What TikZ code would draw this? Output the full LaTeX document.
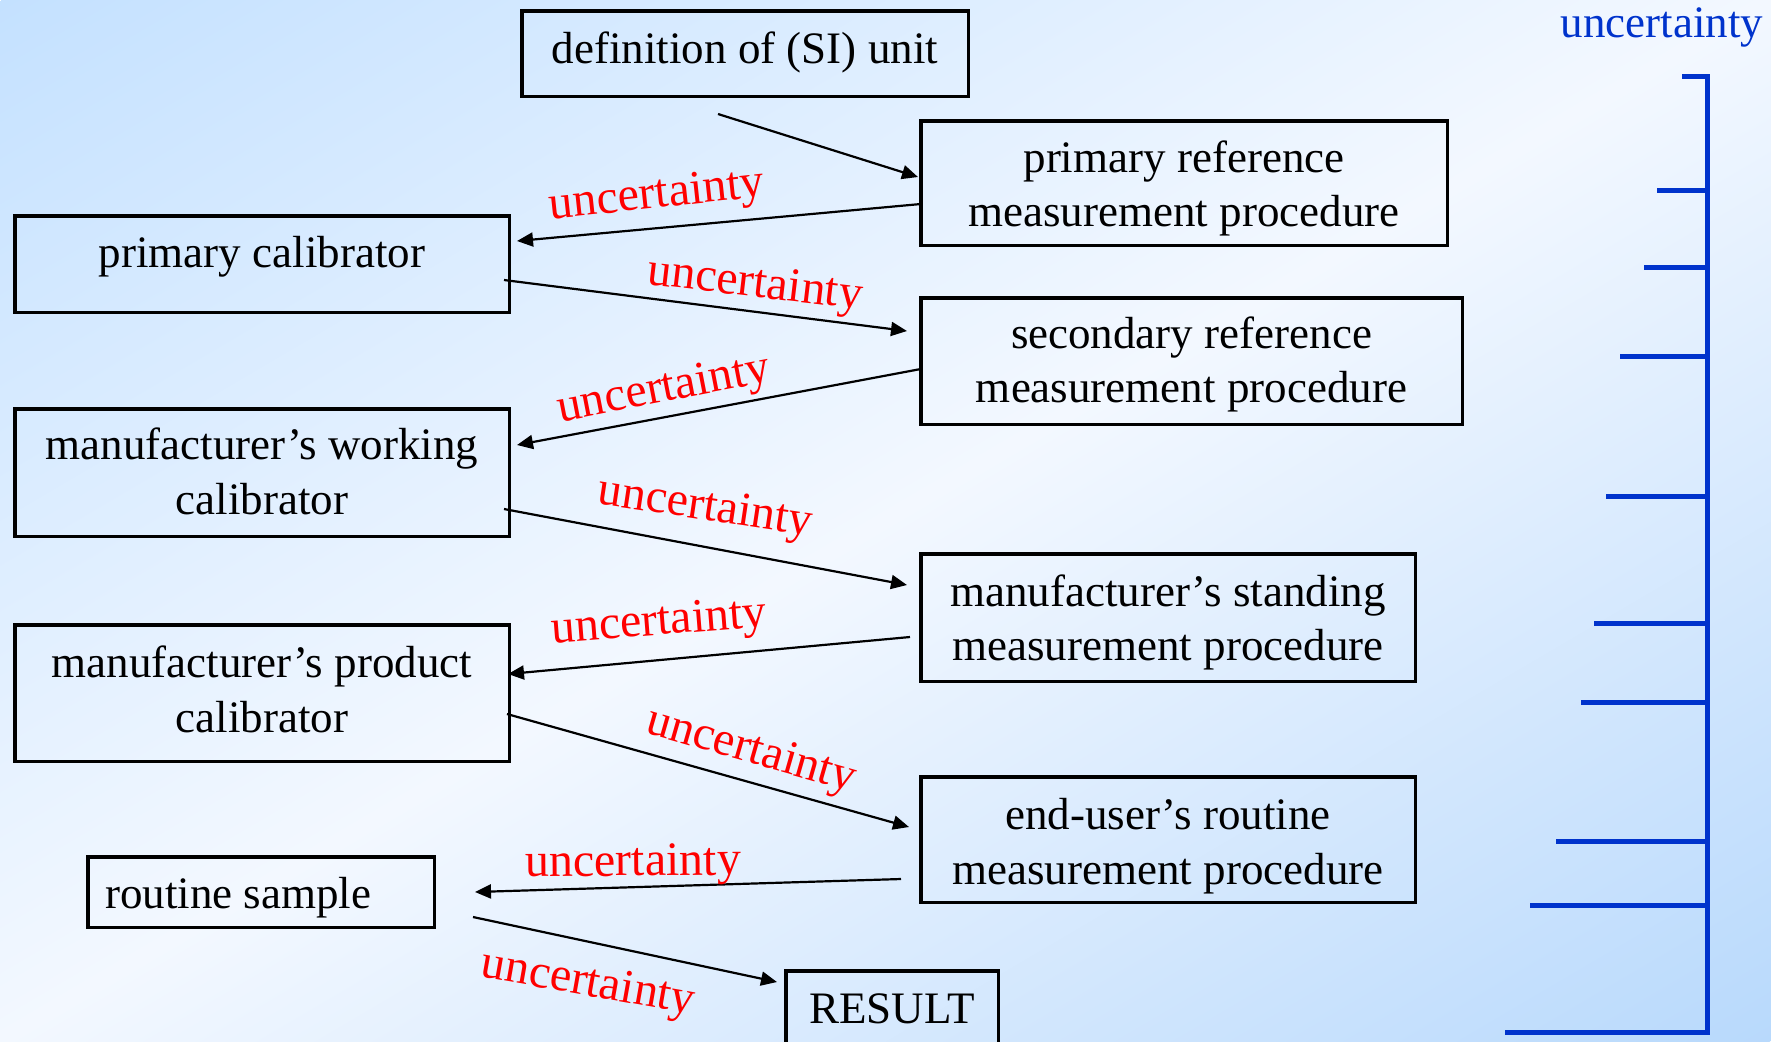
\documentclass[tikz,border=0pt]{standalone}
\usepackage{fontspec}
\setmainfont{Liberation Serif}
\usetikzlibrary{arrows.meta}
\definecolor{ured}{RGB}{255,0,0}
\definecolor{ublue}{RGB}{0,51,204}
\definecolor{bgA}{RGB}{196,225,255}
\definecolor{bgM}{RGB}{243,248,255}
\definecolor{bgB}{RGB}{184,217,252}
\pgfdeclarehorizontalshading{bgshade}{1100bp}{color(0bp)=(bgA); color(447bp)=(bgM); color(894bp)=(bgB)}
\newcommand\boxfont{\fontsize{22.5pt}{27.3pt}\selectfont}
\newcommand\labfont{\fontsize{24pt}{28pt}\selectfont}
\tikzset{
  stepbox/.style={draw=black, line width=1.75pt, inner sep=0pt, outer sep=0pt},
  boxtext/.style={inner sep=0pt, align=center, font=\boxfont},
  arr/.style={draw=black, line width=1.1pt, -{Triangle[length=8pt,width=7pt]}},
  ulab/.style={inner sep=0pt, text=ured, font=\labfont},
  scalebar/.style={draw=ublue, line width=2.5pt}
}
\begin{document}
\begin{tikzpicture}[x=0.5pt,y=-0.5pt]
\useasboundingbox (0,0) rectangle (1771,1041);
\begin{scope}
\clip (0,0) rectangle (1771,1041);
\node[inner sep=0pt, rotate=-59.56] (bg) at (885.5,520.5) {\pgfuseshading{bgshade}};
\end{scope}

% boxes
\node[stepbox, minimum width=223.25pt, minimum height=42.75pt] (def) at (745,53.5) {};
\node[stepbox, minimum width=263.25pt, minimum height=62.25pt] (prm) at (1184,183) {};
\node[stepbox, minimum width=247.25pt, minimum height=48.25pt] (pc) at (262,264) {};
\node[stepbox, minimum width=270.75pt, minimum height=63.25pt] (srm) at (1191.5,361) {};
\node[stepbox, minimum width=247.25pt, minimum height=63.75pt] (mwc) at (262,472.5) {};
\node[stepbox, minimum width=247.25pt, minimum height=63.75pt] (msm) at (1168,617.5) {};
\node[stepbox, minimum width=247.25pt, minimum height=68.25pt] (mpc) at (262,693) {};
\node[stepbox, minimum width=247.25pt, minimum height=62.75pt] (eur) at (1168,839.5) {};
\node[stepbox, minimum width=173.25pt, minimum height=35.25pt] (rs) at (261,892) {};
\node[stepbox, minimum width=106.25pt, minimum height=37.25pt] (res) at (892,1008) {};

% box texts
\node[boxtext, yshift=0.5pt] (def-t) at (def.center) {definition of (SI) unit};
\node[boxtext, yshift=-2.8pt] (prm-t) at (prm.center) {primary reference\\measurement procedure};
\node[boxtext, yshift=3.4pt] (pc-t) at (pc.center) {primary calibrator};
\node[boxtext, yshift=-1.7pt] (srm-t) at (srm.center) {secondary reference\\measurement procedure};
\node[boxtext, yshift=0.5pt] (mwc-t) at (mwc.center) {manufacturer’s working\\calibrator};
\node[boxtext, yshift=-2.5pt] (msm-t) at (msm.center) {manufacturer’s standing\\measurement procedure};
\node[boxtext, yshift=1.7pt] (mpc-t) at (mpc.center) {manufacturer’s product\\calibrator};
\node[boxtext, yshift=-3.4pt] (eur-t) at (eur.center) {end-user’s routine\\measurement procedure};
\node[boxtext, anchor=west, yshift=-2.8pt] (rs-t) at ([shift={(17,0)}]rs.west) {routine sample};
\node[boxtext, yshift=-0.5pt] (res-t) at (res.center) {RESULT};

% connectors
\draw[arr] ([shift={(-27,17.75)}]def.south) -- ([shift={(-2.75,-6)}]prm.west);
\draw[arr] ([shift={(0,21)}]prm.west) -- ([shift={(7.75,-23)}]pc.east);
\draw[arr] ([shift={(-5.25,16)}]pc.east) -- ([shift={(-13.75,-30)}]srm.west);
\draw[arr] ([shift={(0,8)}]srm.west) -- ([shift={(7.75,-27.5)}]mwc.east);
\draw[arr] ([shift={(-5.25,36.5)}]mwc.east) -- ([shift={(-13.75,-32.5)}]msm.west);
\draw[arr] ([shift={(-10.75,19.5)}]msm.west) -- ([shift={(-1.25,-19)}]mpc.east);
\draw[arr] ([shift={(-2.25,21)}]mpc.east) -- ([shift={(-11.75,-12.5)}]eur.west);
\draw[arr] ([shift={(-19.75,39.5)}]eur.west) -- ([shift={(40.75,0)}]rs.east);
\draw[arr] ([shift={(38.75,25)}]rs.east) -- ([shift={(-8.75,-26)}]res.west);

% labels
\node[ulab, rotate=6.1] (u1) at (657,197) {uncertainty};
\node[ulab, rotate=-6.7] (u2) at (755,286) {uncertainty};
\node[ulab, rotate=11] (u3) at (664,391) {uncertainty};
\node[ulab, rotate=-8.5] (u4) at (705,509) {uncertainty};
\node[ulab, rotate=4.5] (u5) at (659,624) {uncertainty};
\node[ulab, rotate=-16] (u6) at (751,752) {uncertainty};
\node[ulab, rotate=0.5] (u7) at (633,865) {uncertainty};
\node[ulab, rotate=-10] (u8) at (588,985) {uncertainty};

% uncertainty scale
\node[inner sep=0pt, text=ublue, font=\boxfont] (uscale) at (1662,27) {uncertainty};
\draw[scalebar] (1682,76) -- (1707,76) -- (1707,1032) -- (1505,1032);
\draw[scalebar] (1657,190) -- (1707,190);
\draw[scalebar] (1644,267) -- (1707,267);
\draw[scalebar] (1620,356) -- (1707,356);
\draw[scalebar] (1606,496) -- (1707,496);
\draw[scalebar] (1594,623) -- (1707,623);
\draw[scalebar] (1581,702) -- (1707,702);
\draw[scalebar] (1556,841) -- (1707,841);
\draw[scalebar] (1530,905) -- (1707,905);
\end{tikzpicture}
\end{document}
